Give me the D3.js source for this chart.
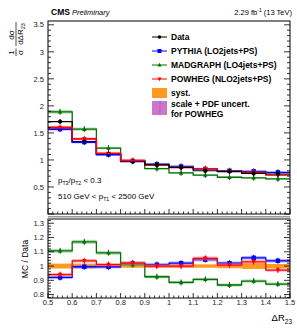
<!DOCTYPE html>
<html>
<head>
<meta charset="utf-8">
<script src="https://cdn.jsdelivr.net/npm/d3@7"></script>
<style>
  body { margin: 0; background: #fff; }
  text { font-family: "Liberation Sans", Arial, sans-serif; }
</style>
</head>
<body>
<div id="chart"></div>
<script>
// --- Data ---
const binEdges = [0.5, 0.6, 0.7, 0.8, 0.9, 1.0, 1.1, 1.2, 1.3, 1.4, 1.5];
const dataVals = [1.71, 1.34, 1.11, 0.97, 0.91, 0.86, 0.80, 0.785, 0.75, 0.74];
const pythiaVals = [1.57, 1.33, 1.10, 0.98, 0.92, 0.88, 0.83, 0.80, 0.79, 0.77];
const madgraphVals = [1.89, 1.57, 1.22, 0.98, 0.84, 0.76, 0.72, 0.68, 0.67, 0.65];
const powhegVals = [1.60, 1.39, 1.12, 0.99, 0.91, 0.86, 0.84, 0.79, 0.77, 0.72];
const pythiaRatio = [0.92, 0.995, 0.995, 1.02, 1.01, 1.02, 1.045, 1.02, 1.058, 1.037];
const madgraphRatio = [1.107, 1.17, 1.093, 1.01, 0.925, 0.885, 0.907, 0.867, 0.895, 0.874];
const powhegRatio = [0.94, 1.037, 1.01, 1.02, 1.0, 1.0, 1.054, 1.007, 1.03, 0.972];
const systVals = [0.017, 0.017, 0.012, 0.012, 0.012, 0.012, 0.012, 0.015, 0.02, 0.015];
const topTicks = [0.5, 1, 1.5, 2, 2.5, 3, 3.5];
const ratioTicks = [0.8, 0.9, 1, 1.1, 1.2, 1.3];
const xTicks = [0.5, 0.6, 0.7, 0.8, 0.9, 1, 1.1, 1.2, 1.3, 1.4, 1.5];

const W = 297, H = 334;
const svg = d3.select("#chart").append("svg").attr("width", W).attr("height", H);

const x = d3.scaleLinear().domain([0.5, 1.5]).range([48, 290]);
const yTop = d3.scaleLinear().domain([0, 3.57]).range([214, 21]);
const yRat = d3.scaleLinear().domain([0.776, 1.33]).range([298, 219]);

const series = [
  { name: "PYTHIA", top: pythiaVals, ratio: pythiaRatio, color: "#0000ff", band: "#7f7fff", marker: "square" },
  { name: "MADGRAPH", top: madgraphVals, ratio: madgraphRatio, color: "#007000", band: "#80c080", marker: "triUp" },
  { name: "POWHEG", top: powhegVals, ratio: powhegRatio, color: "#ff0000", band: "#ff8080", marker: "triDown" }
];
const bins = d3.range(dataVals.length);

function stepPoints(vals) {
  const pts = [];
  vals.forEach((v, i) => { pts.push([binEdges[i], v]); pts.push([binEdges[i + 1], v]); });
  return pts;
}

function marker(g, type, cx, cy, color, s) {
  if (type === "circle") g.append("circle").attr("cx", cx).attr("cy", cy).attr("r", s * 0.9).attr("fill", color);
  else if (type === "square") g.append("rect").attr("x", cx - s).attr("y", cy - s).attr("width", 2 * s).attr("height", 2 * s).attr("fill", color);
  else if (type === "triUp") g.append("path").attr("d", `M${cx},${cy - s * 1.1}L${cx + s},${cy + s * 0.8}L${cx - s},${cy + s * 0.8}Z`).attr("fill", color);
  else g.append("path").attr("d", `M${cx},${cy + s * 1.1}L${cx + s},${cy - s * 0.8}L${cx - s},${cy - s * 0.8}Z`).attr("fill", color);
}

function drawSeries(g, y, vals, s, relBand) {
  // band
  g.selectAll(null).data(bins).join("rect")
    .attr("x", i => x(binEdges[i])).attr("width", i => x(binEdges[i + 1]) - x(binEdges[i]))
    .attr("y", i => y(vals[i] * (1 + relBand))).attr("height", i => y(vals[i] * (1 - relBand)) - y(vals[i] * (1 + relBand)))
    .attr("fill", s.band).attr("opacity", 0.6);
  const line = d3.line().x(d => x(d[0])).y(d => y(d[1]));
  g.append("path").attr("d", line(stepPoints(vals))).attr("fill", "none").attr("stroke", s.color).attr("stroke-width", 1.3);
  bins.forEach(i => {
    const cx = x((binEdges[i] + binEdges[i + 1]) / 2), cy = y(vals[i]);
    g.append("line").attr("x1", cx).attr("x2", cx).attr("y1", cy - 3).attr("y2", cy + 3).attr("stroke", s.color).attr("stroke-width", 1);
    marker(g, s.marker, cx, cy, s.color, 2.2);
  });
}

// --- Top panel ---
const topPanel = svg.append("g");
series.forEach(s => drawSeries(topPanel, yTop, s.top, s, 0.018));
// data
const dataLine = d3.line().x(d => x(d[0])).y(d => yTop(d[1]));
topPanel.append("path").attr("d", dataLine(stepPoints(dataVals))).attr("fill", "none").attr("stroke", "#000").attr("stroke-width", 1.2);
bins.forEach(i => {
  const cx = x((binEdges[i] + binEdges[i + 1]) / 2), cy = yTop(dataVals[i]);
  topPanel.append("line").attr("x1", cx).attr("x2", cx).attr("y1", cy - 2.5).attr("y2", cy + 2.5).attr("stroke", "#000");
  marker(topPanel, "circle", cx, cy, "#000", 2.4);
});
// pythia/powheg lines drawn again above data in the first bins, as in the picture
series.forEach(s => {
  if (s.name === "MADGRAPH") return;
  topPanel.append("path").attr("d", dataLine(stepPoints(s.top.slice(0, 4))))
    .attr("fill", "none").attr("stroke", s.color).attr("stroke-width", 1.3);
});

// --- Ratio panel ---
const rat = svg.append("g");
rat.selectAll(null).data(bins).join("rect")
  .attr("x", i => x(binEdges[i])).attr("width", i => x(binEdges[i + 1]) - x(binEdges[i]))
  .attr("y", i => yRat(1 + systVals[i])).attr("height", i => yRat(1 - systVals[i]) - yRat(1 + systVals[i]))
  .attr("fill", "#ff9a1f");
series.forEach(s => drawSeries(rat, yRat, s.ratio, s, 0.012));

// --- Frames and axes ---
function frame(y0, y1) {
  svg.append("rect").attr("x", x(0.5)).attr("y", y0).attr("width", x(1.5) - x(0.5)).attr("height", y1 - y0)
    .attr("fill", "none").attr("stroke", "#000").attr("stroke-width", 1);
}
frame(yTop.range()[1], yTop.range()[0]);
frame(yRat.range()[1], yRat.range()[0]);
svg.append("line").attr("x1", x(0.5)).attr("x2", x(1.5)).attr("y1", 216.8).attr("y2", 216.8).attr("stroke", "#999").attr("stroke-width", 1.5);
svg.append("line").attr("x1", x(0.5)).attr("x2", x(1.5)).attr("y1", 219.3).attr("y2", 219.3).attr("stroke", "#888").attr("stroke-width", 1.2);

function yTicks(y, majorStep, lo, hi) {
  const g = svg.append("g").attr("stroke", "#000").attr("stroke-width", 0.8);
  const minor = majorStep / 5;
  for (let v = Math.ceil(lo / minor) * minor; v <= hi + 1e-9; v += minor) {
    const isMajor = Math.abs(v / majorStep - Math.round(v / majorStep)) < 1e-6;
    const len = isMajor ? 6 : 3;
    const yy = y(v);
    g.append("line").attr("x1", x(0.5)).attr("x2", x(0.5) + len).attr("y1", yy).attr("y2", yy);
    g.append("line").attr("x1", x(1.5)).attr("x2", x(1.5) - len).attr("y1", yy).attr("y2", yy);
  }
}
yTicks(yTop, 0.5, 0, 3.57);
yTicks(yRat, 0.1, 0.776, 1.33);

function xTickMarks(yBase) {
  const g = svg.append("g").attr("stroke", "#000").attr("stroke-width", 0.8);
  for (let k = 0; k <= 50; k++) {
    const v = 0.5 + k * 0.02;
    const len = k % 5 === 0 ? 5 : 2.5;
    g.append("line").attr("x1", x(v)).attr("x2", x(v)).attr("y1", yBase).attr("y2", yBase - len);
  }
}
xTickMarks(214);
xTickMarks(298);

svg.append("g").selectAll("text").data(topTicks).join("text")
  .attr("x", 44).attr("y", d => yTop(d) + 2.7).attr("text-anchor", "end")
  .attr("font-size", 7.5).attr("fill", "#222").text(d => d);
svg.append("g").selectAll("text").data(ratioTicks).join("text")
  .attr("x", 44).attr("y", d => yRat(d) + 2.7).attr("text-anchor", "end")
  .attr("font-size", 7.5).attr("fill", "#222").text(d => d);
svg.append("g").selectAll("text").data(xTicks).join("text")
  .attr("x", d => x(d)).attr("y", 305).attr("text-anchor", "middle")
  .attr("font-size", 7.5).attr("fill", "#222").text(d => d);

// axis titles
const xt = svg.append("text").attr("x", 292).attr("y", 321).attr("text-anchor", "end").attr("font-size", 9.5);
xt.append("tspan").text("ΔR");
xt.append("tspan").attr("font-size", 6.5).attr("dy", 2.5).text("23");

svg.append("text").attr("transform", "translate(28,259) rotate(-90)").attr("text-anchor", "middle")
  .attr("font-size", 8.5).text("MC / Data");

const yl = svg.append("g").attr("transform", "translate(16,57) rotate(-90)").attr("font-size", 8);
yl.append("text").attr("x", 4.5).attr("y", -2).attr("text-anchor", "middle").text("1");
yl.append("line").attr("x1", 1).attr("x2", 8.5).attr("y1", 0).attr("y2", 0).attr("stroke", "#000").attr("stroke-width", 0.7);
yl.append("text").attr("x", 4.5).attr("y", 7).attr("text-anchor", "middle").text("σ");
yl.append("text").attr("x", 22).attr("y", -2).attr("text-anchor", "middle").text("dσ");
yl.append("line").attr("x1", 11).attr("x2", 35).attr("y1", 0).attr("y2", 0).attr("stroke", "#000").attr("stroke-width", 0.7);
const dd = yl.append("text").attr("x", 23).attr("y", 7).attr("text-anchor", "middle");
dd.append("tspan").text("dΔR");
dd.append("tspan").attr("font-size", 5.5).attr("dy", 2).text("23");

// header
const cms = svg.append("text").attr("x", 51).attr("y", 15).attr("font-size", 8.5);
cms.append("tspan").attr("font-weight", "bold").text("CMS");
cms.append("tspan").attr("font-style", "italic").attr("font-size", 7.5).text(" Preliminary");
const lumi = svg.append("text").attr("x", 292).attr("y", 15).attr("text-anchor", "end").attr("font-size", 7.5);
lumi.append("tspan").text("2.29 fb");
lumi.append("tspan").attr("font-size", 5).attr("dy", -3).text("-1");
lumi.append("tspan").attr("dy", 3).text(" (13 TeV)");

// cuts
const c1 = svg.append("text").attr("x", 58).attr("y", 183).attr("font-size", 8);
c1.append("tspan").text("p");
c1.append("tspan").attr("font-size", 5.2).attr("dy", 2).text("T3");
c1.append("tspan").attr("dy", -2).text("/p");
c1.append("tspan").attr("font-size", 5.2).attr("dy", 2).text("T2");
c1.append("tspan").attr("dy", -2).text(" < 0.3");
const c2 = svg.append("text").attr("x", 58).attr("y", 199).attr("font-size", 8);
c2.append("tspan").text("510 GeV < p");
c2.append("tspan").attr("font-size", 5.2).attr("dy", 2).text("T1");
c2.append("tspan").attr("dy", -2).text(" < 2500 GeV");

// legend
const legendNames = ["Data", "PYTHIA (LO2jets+PS)", "MADGRAPH (LO4jets+PS)", "POWHEG (NLO2jets+PS)"];
const legendY = [37, 51, 65, 79];
const leg = svg.append("g").attr("font-size", 8.5).attr("font-weight", "bold");
const legStyles = [{ color: "#000", marker: "circle" }].concat(series.map(s => ({ color: s.color, marker: s.marker })));
legendNames.forEach((n, i) => {
  const yy = legendY[i];
  leg.append("line").attr("x1", 152).attr("x2", 167).attr("y1", yy).attr("y2", yy).attr("stroke", legStyles[i].color).attr("stroke-width", 1);
  marker(leg, legStyles[i].marker, 159.5, yy, legStyles[i].color, 2);
  leg.append("text").attr("x", 171).attr("y", yy + 3).text(n);
});
leg.append("rect").attr("x", 152).attr("y", 88).attr("width", 15).attr("height", 10).attr("fill", "#ff9a1f");
leg.append("text").attr("x", 171).attr("y", 96).text("syst.");
leg.append("rect").attr("x", 152).attr("y", 101).attr("width", 15).attr("height", 14).attr("fill", "#cc77cc");
leg.append("line").attr("x1", 160).attr("x2", 160).attr("y1", 101).attr("y2", 115).attr("stroke", "#a040a0").attr("stroke-dasharray", "1,1");
leg.append("text").attr("x", 171).attr("y", 107).text("scale + PDF uncert.");
leg.append("text").attr("x", 171).attr("y", 116.5).text("for POWHEG");
</script>
</body>
</html>
